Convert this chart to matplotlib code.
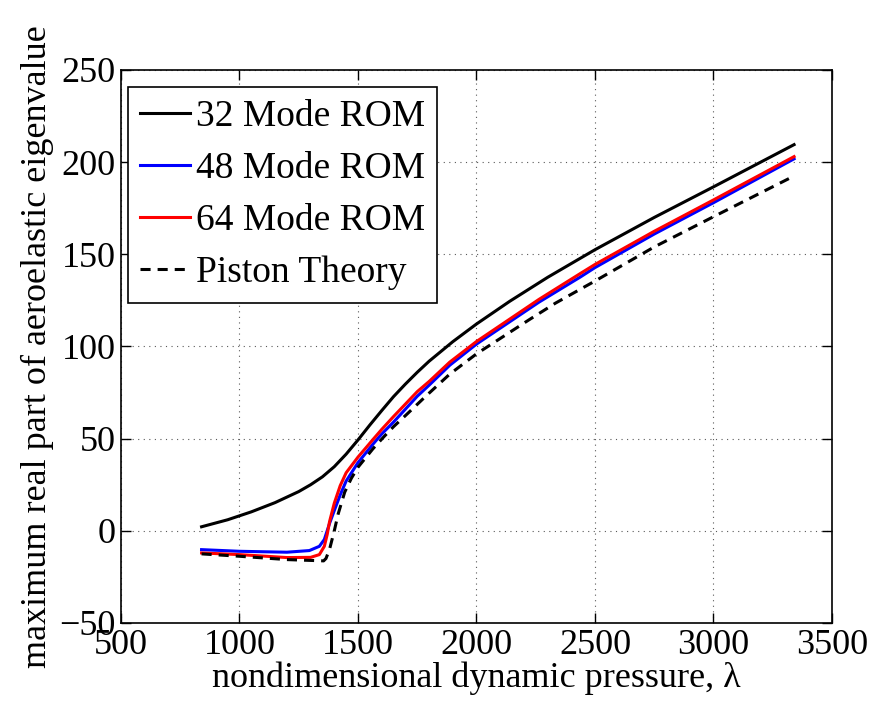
import matplotlib
matplotlib.use('Agg')
import matplotlib.pyplot as plt
import numpy as np

# Data (x = nondimensional dynamic pressure, y = max real part)
x_rom32 = [840, 950, 1050, 1150, 1250, 1300, 1350, 1400, 1450, 1500, 1550, 1600, 1650,
           1700, 1750, 1800, 1900, 2000, 2140, 2300, 2500, 2750, 3000, 3340]
y_rom32 = [2.2, 6.0, 10.3, 15.3, 21.3, 25, 29.3, 34.8, 41.6, 49.3, 57.4, 65.2, 72.8,
           79.6, 86, 92, 102.6, 112.2, 124.5, 137.5, 152.5, 170, 186.6, 209.5]

x_rom48 = [840, 1000, 1200, 1295, 1337, 1358, 1380, 1400, 1425, 1450, 1500, 1563, 1600,
           1650, 1750, 1800, 1887, 2000, 2263, 2437, 2500, 2750, 3000, 3340]
y_rom48 = [-10.2, -11.1, -11.6, -10.7, -8.4, -4.7, 4, 11, 19.5, 27, 37, 47, 52.5,
           59, 73, 79, 89.8, 101.3, 124, 137.6, 142.8, 161, 178, 201.8]

x_rom64 = [840, 1000, 1200, 1300, 1337, 1358, 1370, 1380, 1400, 1425, 1450, 1500, 1563,
           1600, 1650, 1750, 1800, 1887, 2000, 2263, 2437, 2500, 2750, 3000, 3340]
y_rom64 = [-12, -12.9, -14.5, -14.4, -12.9, -8.4, -2, 5, 15, 24.5, 31.5, 40, 49.5,
           55, 62, 75.5, 81, 91.5, 102.7, 125.5, 139.5, 144.5, 162.5, 179.5, 203]

x_piston = [840, 1000, 1200, 1355, 1365, 1380, 1400, 1416, 1444, 1472, 1500, 1563, 1609,
            1650, 1700, 1790, 1887, 2000, 2222, 2333, 2451, 2500, 2750, 3000, 3340]
y_piston = [-12.5, -13.8, -15.6, -16.3, -15, -10, 0, 9, 21, 28.5, 34.5, 44.5, 51,
            56.5, 62.5, 73.5, 85, 96, 114.5, 123.5, 132, 135.5, 154, 170.4, 192.5]

plt.rcParams['font.family'] = ['Liberation Serif', 'DejaVu Serif']
plt.rcParams['font.size'] = 26

fig = plt.figure(figsize=(8.78, 7.09), dpi=100)
ax = fig.add_axes([0.1378, 0.1213, 0.8098, 0.7800])

ax.plot(x_rom32, y_rom32, color='black', lw=2.2, label='32 Mode ROM')
ax.plot(x_rom48, y_rom48, color='blue', lw=2.2, label='48 Mode ROM')
ax.plot(x_rom64, y_rom64, color='red', lw=2.2, label='64 Mode ROM')
ax.plot(x_piston, y_piston, color='black', lw=2.2, ls=(0, (3.3, 2.3)), label='Piston Theory')

ax.set_xlim(500, 3500)
ax.set_ylim(-50, 250)
ax.set_xticks(np.arange(500, 3501, 500))
ax.set_yticks(np.arange(-50, 251, 50))

# MATLAB-like look: dotted grid, inward ticks on all sides
ax.grid(True, ls=(0, (1, 4)), color='0.35', lw=0.8)
ax.tick_params(direction='in', length=7, width=1, top=True, right=True, pad=4)
for s in ax.spines.values():
    s.set_linewidth(1.2)

ax.set_xlabel('nondimensional dynamic pressure, λ', family=['Liberation Serif'], labelpad=0)
ax.set_ylabel('maximum real part of aeroelastic eigenvalue', family=['Liberation Serif'],
              labelpad=4)

leg = ax.legend(loc='upper left', bbox_to_anchor=(7 / 712, 1 - 17 / 553), borderaxespad=0,
                fancybox=False, framealpha=1, edgecolor='black', fontsize=27,
                handlelength=1.33, handletextpad=0.15, borderpad=0.33, labelspacing=0.47)
leg.get_frame().set_linewidth(1.2)

fig.savefig('out.png', dpi=100)
